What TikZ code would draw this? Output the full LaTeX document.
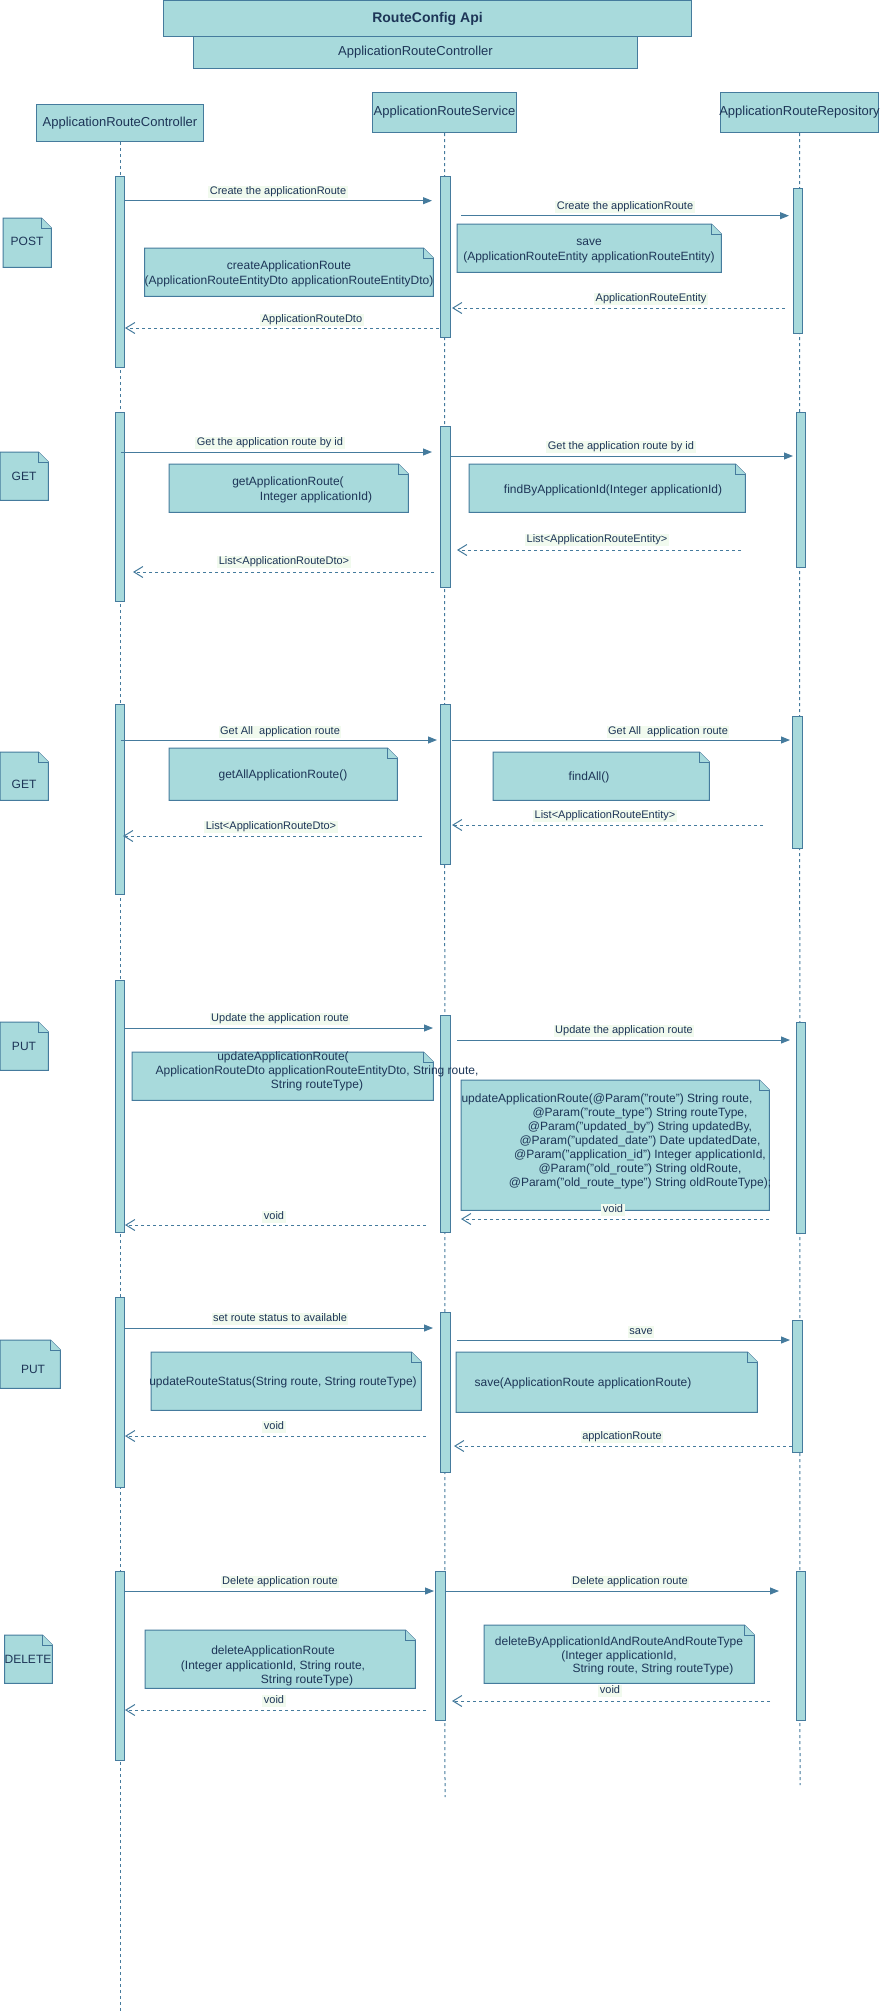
\documentclass[tikz,border=0pt]{standalone}
\usepackage{fontspec}
\setmainfont{Liberation Sans}
\usetikzlibrary{arrows.meta}

\definecolor{fillc}{HTML}{A8DADC}
\definecolor{linec}{HTML}{457B9D}
\definecolor{textc}{HTML}{1D3557}
\definecolor{labelbg}{HTML}{F1FAEE}

% activation bar: name, x0, y0, x1, y1
\newcommand\actbar[5]{%
  \node[bar, anchor=north west, minimum width={(#4-#2)*1pt}, minimum height={(#5-#3)*1pt}] (#1) at (#2,#3) {};}

% note with folded corner: name, x0, y0, x1, y1
\newcommand\notebox[5]{%
  \node[notebody, anchor=north west, minimum width={(#4-#2)*1pt}, minimum height={(#5-#3)*1pt}] (#1) at (#2,#3) {};
  \filldraw[noteline] (#1.north west) -- ([xshift=-10pt]#1.north east) -- ([yshift=-10pt]#1.north east)
      -- (#1.south east) -- (#1.south west) -- cycle;
  \draw[noteline] ([xshift=-10pt]#1.north east) -- ([xshift=-10pt,yshift=-10pt]#1.north east)
      -- ([yshift=-10pt]#1.north east);}

% call message: name, x from, x to, y, label, label x, label y
\newcommand\callmsg[7]{%
  \coordinate (#1s) at (#2,#4);
  \coordinate (#1e) at (#3,#4);
  \draw[msg] (#1s) -- (#1e);
  \node[lbl] (#1l) at (#6,#7) {#5};}

% return message: same arguments
\newcommand\retmsg[7]{%
  \coordinate (#1s) at (#2,#4);
  \coordinate (#1e) at (#3,#4);
  \draw[ret] (#1s) -- (#1e);
  \node[lbl] (#1l) at (#6,#7) {#5};}

\begin{document}
\begin{tikzpicture}[x=1pt,y=-1pt,
  box/.style={draw=linec, fill=fillc, line width=1pt, inner sep=0, text=textc},
  bar/.style={draw=linec, fill=fillc, line width=1pt, inner sep=0},
  notebody/.style={draw=none, fill=none, inner sep=0},
  noteline/.style={draw=linec, fill=fillc, line width=1pt},
  msg/.style={draw=linec, line width=1pt, -{Triangle[length=9pt,width=7pt]}},
  ret/.style={draw=linec, line width=1pt, dash pattern=on 3pt off 3pt, -{Straight Barb[length=9pt,width=11pt]}},
  life/.style={draw=linec, line width=1pt, dash pattern=on 3pt off 3pt},
  lbl/.style={fill=labelbg, text=textc, font=\fontsize{11}{13}\selectfont, inner xsep=1.5pt, inner ysep=1pt, text height=8pt, text depth=2.3pt},
  ntxt/.style={text=textc, font=\fontsize{12}{14}\selectfont, inner sep=0, text height=8.6pt, text depth=2.5pt},
  htxt/.style={text=textc, font=\fontsize{13}{15}\selectfont, inner sep=0, text height=9.3pt, text depth=2.7pt}]

\useasboundingbox (0,0) rectangle (881,2013);

% heading
\node[box, anchor=north west, minimum width=528pt, minimum height=36pt] (api) at (163,0) {};
\node[text=textc, font=\bfseries\fontsize{14}{16}\selectfont, inner sep=0] (apit) at (api.center) {RouteConfig Api};
\node[box, anchor=north west, minimum width=444pt, minimum height=32pt] (apictl) at (193,36) {};
\node[htxt] (apictlt) at (apictl.center) {ApplicationRouteController};

% participants
\node[box, anchor=north west, minimum width=167pt, minimum height=37pt] (ctl) at (36,104) {};
\node[htxt] (ctlt) at (ctl.center) {ApplicationRouteController};
\node[box, anchor=north west, minimum width=144pt, minimum height=40pt] (svc) at (372,92) {};
\node[htxt] (svct) at (svc.center) {ApplicationRouteService};
\node[box, anchor=north west, minimum width=158pt, minimum height=40pt] (repo) at (720,92) {};
\node[htxt] (repot) at (repo.center) {ApplicationRouteRepository};

% lifelines
\coordinate (ctlend) at (120,2013);
\coordinate (svcend) at (445,1797);
\coordinate (repoend) at (800,1785);
\draw[life] (ctl.south) -- (ctlend);
\draw[life] (svc.south) -- (svcend);
\draw[life] (repo.south) -- (repoend);

% ---------- POST ----------
\actbar{c1}{115}{176}{124}{367}
\actbar{s1}{440}{176}{450}{337}
\actbar{r1}{792.5}{188}{802}{333}
\notebox{post}{3}{218}{51}{267}
\node[ntxt] (postt) at (27,242) {POST};
\notebox{n1a}{144.5}{248}{433}{296}
\node[ntxt] (n1a1) at (289,266) {createApplicationRoute};
\node[ntxt] (n1a2) at (289,281) {(ApplicationRouteEntityDto applicationRouteEntityDto)};
\notebox{n1b}{457}{224}{721}{272}
\node[ntxt] (n1b1) at (589,242) {save};
\node[ntxt] (n1b2) at (589,257) {(ApplicationRouteEntity applicationRouteEntity)};
\callmsg{a1}{124}{432}{200.7}{Create the applicationRoute}{278}{192}
\callmsg{a2}{461}{789}{215.7}{Create the applicationRoute}{625}{207}
\retmsg{a3}{785}{452}{308}{ApplicationRouteEntity}{651}{299}
\retmsg{a4}{439}{125}{328}{ApplicationRouteDto}{312}{320}

% ---------- GET by id ----------
\actbar{c2}{115}{412}{124}{601}
\actbar{s2}{440}{426}{450}{587}
\actbar{r2}{796}{412}{805}{567}
\notebox{get1}{0}{452}{48}{500}
\node[ntxt] (get1t) at (24,477) {GET};
\notebox{n2a}{169}{464}{408}{512}
\node[ntxt] (n2a1) at (288,482) {getApplicationRoute(};
\node[ntxt] (n2a2) at (316,497) {Integer applicationId)};
\notebox{n2b}{469}{464}{745}{512}
\node[ntxt] (n2b1) at (613,490) {findByApplicationId(Integer applicationId)};
\callmsg{b1}{121}{432}{452}{Get the application route by id}{270}{443}
\callmsg{b2}{450}{793}{456}{Get the application route by id}{621}{447}
\retmsg{b3}{741}{457}{550}{List<ApplicationRouteEntity>}{597}{540}
\retmsg{b4}{434}{133}{572}{List<ApplicationRouteDto>}{284}{562}

% ---------- GET all ----------
\actbar{c3}{115}{704}{124}{894}
\actbar{s3}{440}{704}{450}{864}
\actbar{r3}{792}{716}{802}{848}
\notebox{get2}{0}{752}{48}{800}
\node[ntxt] (get2t) at (24,785) {GET};
\notebox{n3a}{169}{748}{397}{800}
\node[ntxt] (n3a1) at (283,775) {getAllApplicationRoute()};
\notebox{n3b}{493}{752}{709}{800}
\node[ntxt] (n3b1) at (589,777) {findAll()};
\callmsg{d1}{121}{437}{740}{Get All\ \ application route}{280}{732}
\callmsg{d2}{452}{790}{740}{Get All\ \ application route}{668}{732}
\retmsg{d3}{763}{452}{825}{List<ApplicationRouteEntity>}{605}{816}
\retmsg{d4}{422}{123}{836}{List<ApplicationRouteDto>}{271}{827}

% ---------- PUT update ----------
\actbar{c4}{115}{980}{124}{1232}
\actbar{s4}{440}{1015}{450}{1232}
\actbar{r4}{796}{1022}{805}{1233}
\notebox{put1}{0}{1022}{48}{1070}
\node[ntxt] (put1t) at (24,1047) {PUT};
\notebox{n4a}{132}{1052}{433}{1100}
\node[ntxt] (n4a1) at (283,1057) {updateApplicationRoute(};
\node[ntxt] (n4a2) at (317,1071) {ApplicationRouteDto applicationRouteEntityDto, String route,};
\node[ntxt] (n4a3) at (317,1085) {String routeType)};
\notebox{n4b}{461}{1080}{769}{1210}
\node[ntxt] (n4b1) at (607,1099) {updateApplicationRoute(@Param("route") String route,};
\node[ntxt] (n4b2) at (640,1113) {@Param("route\_type") String routeType,};
\node[ntxt] (n4b3) at (640,1127) {@Param("updated\_by") String updatedBy,};
\node[ntxt] (n4b4) at (640,1141) {@Param("updated\_date") Date updatedDate,};
\node[ntxt] (n4b5) at (640,1155) {@Param("application\_id") Integer applicationId,};
\node[ntxt] (n4b6) at (640,1169) {@Param("old\_route") String oldRoute,};
\node[ntxt] (n4b7) at (640,1183) {@Param("old\_route\_type") String oldRouteType);};
\callmsg{e1}{124}{433}{1028}{Update the application route}{280}{1019}
\callmsg{e2}{457}{790}{1040}{Update the application route}{624}{1031}
\retmsg{e3}{769}{461}{1219}{void}{613}{1210}
\retmsg{e4}{426}{125}{1225}{void}{274}{1217}

% ---------- PUT status ----------
\actbar{c5}{115}{1297}{124}{1487}
\actbar{s5}{440}{1312}{450}{1472}
\actbar{r5}{792}{1320}{802}{1452}
\notebox{put2}{0}{1340}{60}{1388}
\node[ntxt] (put2t) at (33,1370) {PUT};
\notebox{n5a}{151}{1352}{421}{1410}
\node[ntxt] (n5a1) at (283,1382) {updateRouteStatus(String route, String routeType)};
\notebox{n5b}{456}{1352}{757}{1412}
\node[ntxt] (n5b1) at (583,1383) {save(ApplicationRoute applicationRoute)};
\callmsg{f1}{124}{433}{1328}{set route status to available}{280}{1319}
\callmsg{f2}{457}{790}{1340}{save}{641}{1332}
\retmsg{f3}{792}{454}{1446}{applcationRoute}{622}{1437}
\retmsg{f4}{426}{125}{1436}{void}{274}{1427}

% ---------- DELETE ----------
\actbar{c6}{115}{1571}{124}{1760}
\actbar{s6}{435}{1571}{445}{1720}
\actbar{r6}{796}{1571}{805}{1720}
\notebox{del}{4.5}{1635}{52}{1683}
\node[ntxt] (delt) at (28,1660) {DELETE};
\notebox{n6a}{145}{1630}{415}{1688}
\node[ntxt] (n6a1) at (273,1651) {deleteApplicationRoute};
\node[ntxt] (n6a2) at (273,1666) {(Integer applicationId, String route,};
\node[ntxt] (n6a3) at (307,1680) {String routeType)};
\notebox{n6b}{484}{1625}{754}{1683}
\node[ntxt] (n6b1) at (619,1642) {deleteByApplicationIdAndRouteAndRouteType};
\node[ntxt] (n6b2) at (619,1656) {(Integer applicationId,};
\node[ntxt] (n6b3) at (653,1669) {String route, String routeType)};
\callmsg{g1}{124}{434}{1591}{Delete application route}{280}{1582}
\callmsg{g2}{445}{779}{1591}{Delete application route}{630}{1582}
\retmsg{g3}{770}{452}{1701}{void}{610}{1691}
\retmsg{g4}{426}{125}{1710}{void}{274}{1701}

\end{tikzpicture}
\end{document}
